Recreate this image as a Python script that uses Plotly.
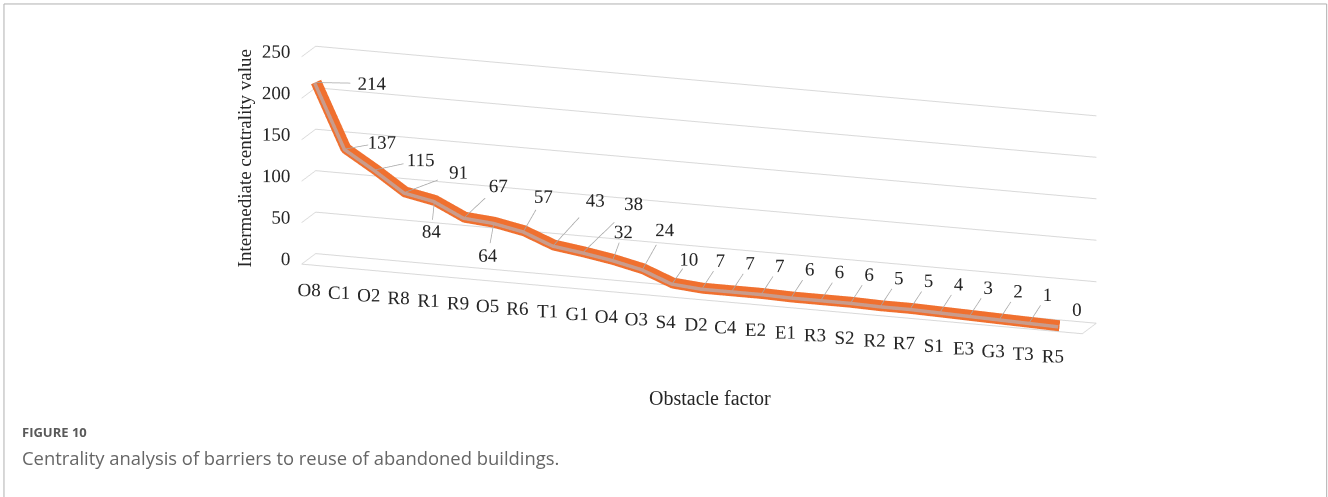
import plotly.graph_objects as go

# Obstacle factors ranked by betweenness (intermediate) centrality
factors = ["O8", "C1", "O2", "R8", "R1", "R9", "O5", "R6", "T1", "G1", "O4", "O3", "S4",
           "D2", "C4", "E2", "E1", "R3", "S2", "R2", "R7", "S1", "E3", "G3", "T3", "R5"]
centrality = [214, 137, 115, 91, 84, 67, 64, 57, 43, 38, 32, 24, 10,
              7, 7, 7, 6, 6, 6, 5, 5, 4, 3, 2, 1, 0]
value_ticks = [0, 50, 100, 150, 200, 250]

n = len(factors)
idx = list(range(n))
X_RANGE = [-0.25, 26.0]
LINE_DEPTH = 0.5

# data-label placement: offsets in (category, value) units from each point
lab_dx = [1.9, 1.25, 1.55, 1.8, -0.1, 1.15, -0.2, 0.67, 1.4, 1.7, 0.35, 0.75, 0.57] + [0.62] * 12 + [0.6]
lab_dz = [5, 12, 17, 30, -37, 42, -40, 44, 59, 64, 35, 50, 31] + [36] * 12 + [22]
has_leader = [True] * (n - 1) + [False]

lab_x = [i + dx for i, dx in zip(idx, lab_dx)]
lab_z = [v + dz for v, dz in zip(centrality, lab_dz)]

lead_x, lead_y, lead_z = [], [], []
for i, v, lx, lz, show in zip(idx, centrality, lab_x, lab_z, has_leader):
    if not show:
        continue
    f = 0.62
    lead_x += [i, i + (lx - i) * f, None]
    lead_y += [LINE_DEPTH - 0.05, LINE_DEPTH - 0.05, None]
    lead_z += [v, v + (lz - v) * f, None]

serif = "Liberation Serif"
ink = "#262626"
fig = go.Figure()

# category labels under the front edge of the floor
fig.add_trace(go.Scatter3d(x=idx, y=[0.0] * n, z=[0] * n, mode="text", text=factors,
                           textposition="bottom center",
                           textfont=dict(family=serif, size=19, color=ink), hoverinfo="skip"))
# value-axis labels beside the left wall
fig.add_trace(go.Scatter3d(x=[X_RANGE[0]] * len(value_ticks), y=[0.5] * len(value_ticks),
                           z=value_ticks, mode="text", text=[str(t) for t in value_ticks],
                           textposition="middle left",
                           textfont=dict(family=serif, size=19, color=ink), hoverinfo="skip"))
# leader lines
fig.add_trace(go.Scatter3d(x=lead_x, y=lead_y, z=lead_z, mode="lines",
                           line=dict(color="#a6a6a6", width=1.5), hoverinfo="skip"))
# the ribbon: orange body with a muted centre stripe
fig.add_trace(go.Scatter3d(x=idx, y=[LINE_DEPTH] * n, z=centrality, mode="lines",
                           line=dict(color="#f0702f", width=22), hoverinfo="skip"))
fig.add_trace(go.Scatter3d(x=idx, y=[LINE_DEPTH - 0.1] * n, z=centrality, mode="lines",
                           line=dict(color="#c99c8c", width=7), hoverinfo="skip"))
# data labels
fig.add_trace(go.Scatter3d(x=lab_x, y=[LINE_DEPTH - 0.05] * n, z=lab_z, mode="text",
                           text=[str(v) for v in centrality], textposition="middle center",
                           textfont=dict(family=serif, size=19, color=ink), hoverinfo="skip"))

axis_common = dict(showbackground=False, zeroline=False, showspikes=False,
                   showticklabels=False, ticks="", title=dict(text=""))
fig.update_layout(
    width=1328, height=497, margin=dict(l=0, r=0, t=0, b=0),
    paper_bgcolor="white", showlegend=False, hovermode=False,
    scene=dict(
        domain=dict(x=[0.057, 0.995], y=[0.2356, 0.9996]),
        aspectmode="manual", aspectratio=dict(x=4.346, y=0.226, z=1.13),
        xaxis=dict(axis_common, range=X_RANGE, showgrid=False, showline=True,
                   linecolor="#d9d9d9", linewidth=2),
        yaxis=dict(axis_common, range=[0, 1], showgrid=False, showline=True,
                   linecolor="#d9d9d9", linewidth=2),
        zaxis=dict(axis_common, range=[0, 250], tickvals=value_ticks, showgrid=True,
                   gridcolor="#d9d9d9", gridwidth=2, showline=False),
        camera=dict(eye=dict(x=0.664, y=-1.927, z=0.546), center=dict(x=0, y=0, z=0),
                    up=dict(x=0, y=0, z=1), projection=dict(type="orthographic")),
    ),
    annotations=[
        dict(text="Intermediate centrality value", x=0.184, y=0.682, xref="paper", yref="paper",
             xanchor="center", yanchor="middle", textangle=-90, showarrow=False,
             font=dict(family=serif, size=19, color=ink)),
        dict(text="Obstacle factor", x=0.535, y=0.199, xref="paper", yref="paper",
             xanchor="center", yanchor="middle", showarrow=False,
             font=dict(family=serif, size=20, color=ink)),
        dict(text="<b>FIGURE 10</b>", x=0.015, y=0.131, xref="paper", yref="paper",
             xanchor="left", yanchor="middle", showarrow=False,
             font=dict(family="Open Sans", size=13, color="#595959")),
        dict(text="Centrality analysis of barriers to reuse of abandoned buildings.", x=0.015,
             y=0.080, xref="paper", yref="paper", xanchor="left", yanchor="middle",
             showarrow=False, font=dict(family="Open Sans", size=18.4, color="#666666")),
    ],
    shapes=[dict(type="rect", xref="paper", yref="paper", x0=0.003, x1=0.999, y0=-0.05, y1=0.992,
                 line=dict(color="#b0b0b0", width=1))],
)
fig.write_html("out.html")
